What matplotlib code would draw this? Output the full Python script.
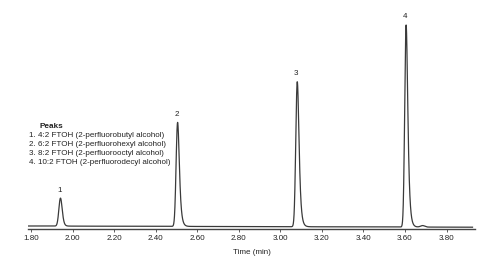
import math
import numpy as np
import matplotlib
matplotlib.use("Agg")
import matplotlib.pyplot as plt

plt.rcParams["font.family"] = ["Liberation Sans", "DejaVu Sans"]

# ---- data ----
peak_ids = ["1", "2", "3", "4"]
retention_times = [1.938, 2.501, 3.077, 3.601]
peak_heights = [28, 104, 145, 202]
peak_sigmas = [0.0070, 0.0062, 0.0062, 0.0058]
peak_taus = [0.005, 0.007, 0.007, 0.007]
bump_times = [3.685]
bump_heights = [1.5]
baseline_start = 0.0
baseline_end = -1.2
time_range = [1.786, 3.925]
tick_values = [1.80, 2.00, 2.20, 2.40, 2.60, 2.80, 3.00, 3.20, 3.40, 3.60, 3.80]
tick_labels = ["1.80", "2.00", "2.20", "2.40", "2.60", "2.80", "3.00", "3.20", "3.40", "3.60", "3.80"]
legend_lines = ["1. 4:2 FTOH (2-perfluorobutyl alcohol)",
                "2. 6:2 FTOH (2-perfluorohexyl alcohol)",
                "3. 8:2 FTOH (2-perfluorooctyl alcohol)",
                "4. 10:2 FTOH (2-perfluorodecyl alcohol)"]

erfc = np.vectorize(math.erfc)


def emg(t, mu, sigma, tau):
    z = (sigma / tau - (t - mu) / sigma) / math.sqrt(2)
    arg = 0.5 * (sigma / tau) ** 2 - (t - mu) / tau
    arg = np.minimum(arg, 700)
    y = np.exp(arg) * erfc(z)
    y = np.nan_to_num(y)
    return y / y.max()


t = np.linspace(time_range[0], time_range[1], 6000)
signal = baseline_start + (baseline_end - baseline_start) * (t - t[0]) / (t[-1] - t[0])
for mu, h, s, tau in zip(retention_times, peak_heights, peak_sigmas, peak_taus):
    signal = signal + h * emg(t, mu, s, tau)
for mu, h in zip(bump_times, bump_heights):
    signal = signal + h * np.exp(-0.5 * ((t - mu) / 0.01) ** 2)

fig = plt.figure(figsize=(5.0, 2.68), dpi=100)
ax = fig.add_axes([28 / 500, (268 - 229) / 268, 447 / 500, 219 / 268])
ax.plot(t, signal, color="#3a3a3a", lw=0.9)
ax.set_xlim(1.7856, 3.937)
ax.set_ylim(-3, 216)

for pid, mu, h in zip(peak_ids, retention_times, peak_heights):
    ax.text(mu, h + 4, pid, ha="center", va="bottom", fontsize=5.8, color="#222222")

for sp in ["top", "right", "left"]:
    ax.spines[sp].set_visible(False)
ax.spines["bottom"].set_color("#444444")
ax.spines["bottom"].set_linewidth(1.0)
ax.set_yticks([])
ax.set_xticks(tick_values)
ax.set_xticklabels(tick_labels)
ax.tick_params(axis="x", labelsize=5.8, length=2.5, width=0.6, color="#444444",
               labelcolor="#222222", pad=2)
ax.set_xlabel("Time (min)", fontsize=5.8, color="#222222", labelpad=5)

fig.text(40 / 500, 1 - 126 / 268, "Peaks", fontsize=5.9, fontweight="bold",
         ha="left", va="center", color="#222222")
for i, line in enumerate(legend_lines):
    fig.text(29 / 500, 1 - (135.5 + 9 * i) / 268, line, fontsize=5.8,
             ha="left", va="center", color="#222222")

fig.savefig("out.png", dpi=100)
